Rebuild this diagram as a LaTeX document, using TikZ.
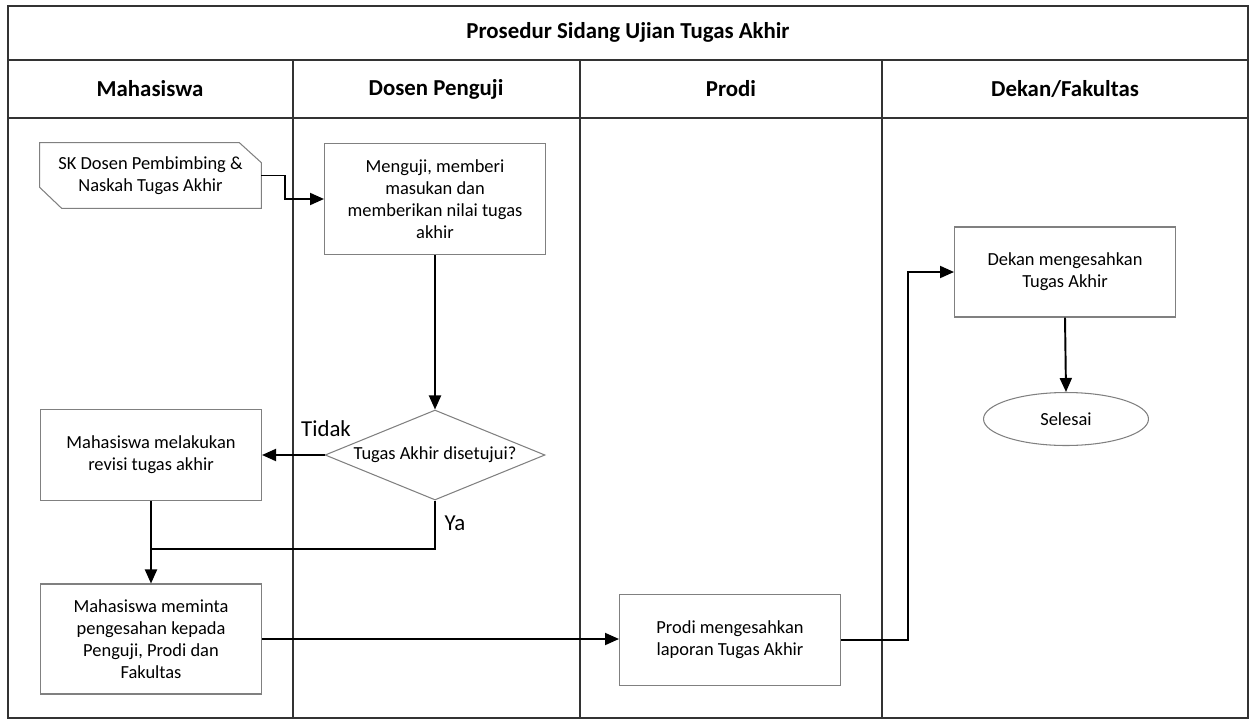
\documentclass[tikz,border=0pt]{standalone}
\usepackage{fontspec}
\setmainfont{Carlito}
\usetikzlibrary{shapes.geometric,arrows.meta}
\tikzset{
  langkah/.style={draw=black!50, line width=0.6pt, minimum width=4.42cm, minimum height=1.82cm, align=center, inner sep=2pt, font=\fontsize{10.5}{12.5}\selectfont},
  teks/.style={align=center, inner sep=0pt, font=\fontsize{10.5}{12.5}\selectfont},
  cabang/.style={draw=black!50, line width=0.6pt, diamond, minimum width=4.4cm, minimum height=1.8cm, inner sep=0pt},
  akhir/.style={draw=black!50, line width=0.6pt, ellipse, minimum width=3.3cm, minimum height=1.06cm, font=\fontsize{10.5}{12.5}\selectfont},
  alur/.style={line width=1.1pt, -{Triangle[length=2.8mm,width=2.4mm]}},
  garis/.style={line width=1.1pt},
  lajur/.style={draw=black!80, line width=0.6pt},
  judul/.style={font=\fontsize{13}{15}\selectfont\bfseries},
  ket/.style={font=\fontsize{13}{15}\selectfont}
}
\begin{document}
\begin{tikzpicture}[x=0.02cm,y=-0.02cm]
\useasboundingbox (0,0) rectangle (1250,720);

\draw[lajur] (8,6) rectangle (1248,718);
\draw[lajur] (8,60) -- (1248,60);
\draw[lajur] (8,118) -- (1248,118);
\draw[lajur] (293,60) -- (293,718);
\draw[lajur] (580,60) -- (580,718);
\draw[lajur] (882,60) -- (882,718);

\node[judul] (judul) at (628,32) {Prosedur Sidang Ujian Tugas Akhir};
\node[judul] (mhs) at (150,89) {Mahasiswa};
\node[judul] (dosen) at (436,89) {Dosen Penguji};
\node[judul] (prd) at (731,89) {Prodi};
\node[judul] (fak) at (1065,89) {Dekan/Fakultas};

\node[teks, minimum width=4.42cm, minimum height=1.3cm] (sk) at (150.5,175.5) {SK Dosen Pembimbing \&\\Naskah Tugas Akhir};
\draw[draw=black!50, line width=0.6pt] (sk.north west) -- ([xshift=-0.44cm]sk.north east) -- ([yshift=-0.4cm]sk.north east)
  -- (sk.south east) -- ([xshift=0.44cm]sk.south west) -- ([yshift=0.42cm]sk.south west) -- cycle;

\node[langkah, minimum height=2.22cm] (menguji) at (435,199) {Menguji, memberi\\masukan dan\\memberikan nilai tugas\\akhir};
\node[cabang] (cek) at (435,455) {};
\node[teks] (cektxt) at (cek.center) {Tugas Akhir disetujui?};
\node[langkah] (revisi) at (151,455) {Mahasiswa melakukan\\revisi tugas akhir};
\node[langkah, minimum height=2.2cm] (minta) at (151,639) {Mahasiswa meminta\\pengesahan kepada\\Penguji, Prodi dan\\Fakultas};
\node[langkah] (sah) at (730,640) {Prodi mengesahkan\\laporan Tugas Akhir};
\node[langkah, minimum height=1.8cm] (dekan) at (1065,272) {Dekan mengesahkan\\Tugas Akhir};
\node[akhir] (selesai) at (1066,419) {Selesai};

\node[ket] (tidak) at (326,429) {Tidak};
\node[ket] (ya) at (455,523) {Ya};

\coordinate (gabung) at (151,549);

\draw[alur] (sk.east) -- ++(24,0) |- (menguji.west);
\draw[alur] (menguji.south) -- (cek.north);
\draw[alur] (cek.west) -- (revisi.east);
\draw[alur] (revisi.south) -- (minta.north);
\draw[garis] (cek.south) |- (gabung);
\draw[alur] (minta.east) -- (minta.east -| sah.west);
\draw[alur] (sah.east) -- ++(67,0) |- (dekan.west);
\draw[alur] (dekan.south) -- (selesai.north);
\end{tikzpicture}
\end{document}
